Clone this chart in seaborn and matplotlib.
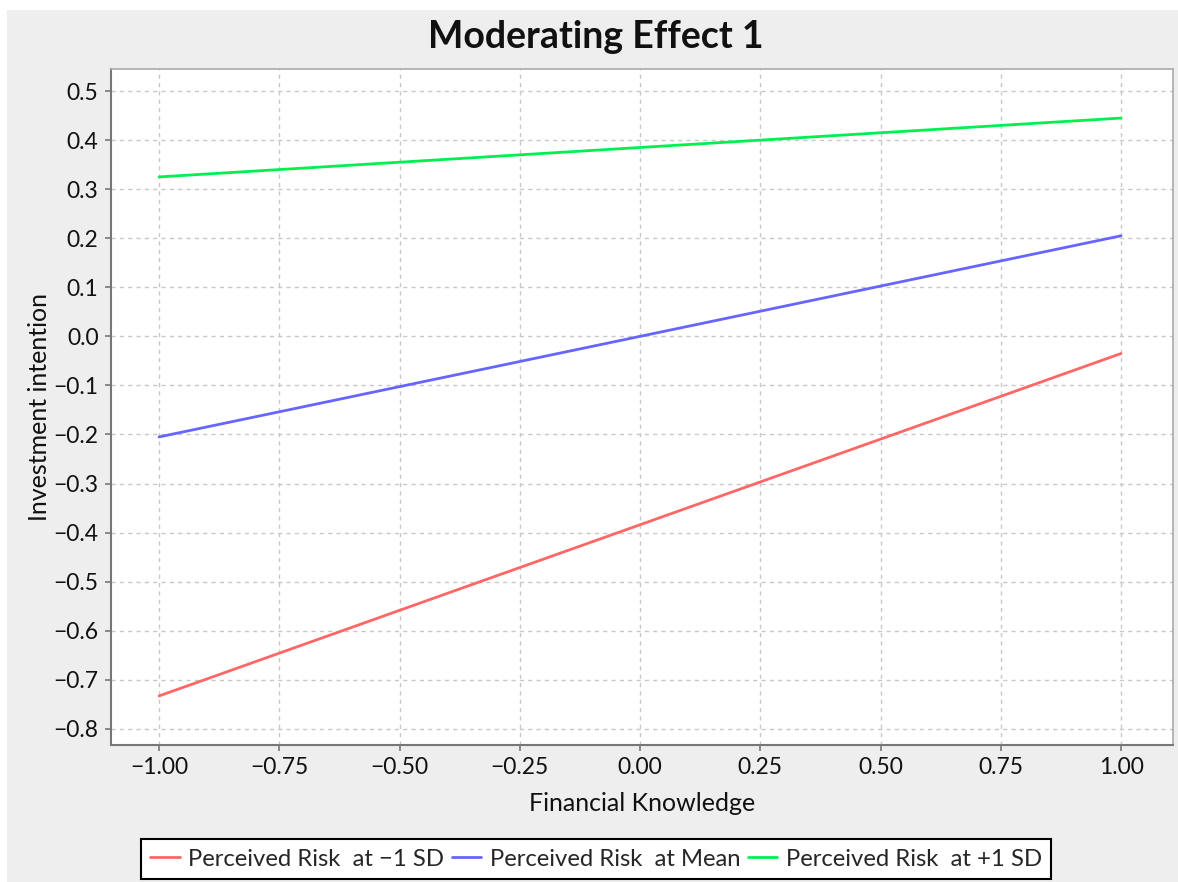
import matplotlib
matplotlib.use("Agg")
import matplotlib.pyplot as plt
import seaborn as sns
import pandas as pd
from matplotlib.patches import Rectangle
from matplotlib.lines import Line2D

# Data
knowledge = [-1.0, 1.0]
series_names = ["Perceived Risk  at \u22121 SD", "Perceived Risk  at Mean", "Perceived Risk  at +1 SD"]
risk_low = [-0.733, -0.035]
risk_mean = [-0.205, 0.205]
risk_high = [0.325, 0.445]
x_ticks = [-1.00, -0.75, -0.50, -0.25, 0.00, 0.25, 0.50, 0.75, 1.00]
y_ticks = [0.5, 0.4, 0.3, 0.2, 0.1, 0.0, -0.1, -0.2, -0.3, -0.4, -0.5, -0.6, -0.7, -0.8]

rows = []
for name, vals in zip(series_names, [risk_low, risk_mean, risk_high]):
    for x, y in zip(knowledge, vals):
        rows.append({"Financial Knowledge": x, "Investment intention": y, "series": name})
df = pd.DataFrame(rows)

sns.set_theme(style="whitegrid")
plt.rcParams['font.family'] = ['Lato', 'DejaVu Sans']

fig = plt.figure(figsize=(11.78, 8.82), dpi=100, facecolor="white")
# grey panel background (screenshot look)
fig.patches.append(Rectangle((7/1178, 0), 1 - 7/1178, 1 - 10/882, transform=fig.transFigure,
                             facecolor="#EEEEEE", edgecolor="none", zorder=-10))

ax = fig.add_axes([111/1178, 1 - 745/882, (1173 - 111)/1178, (745 - 69)/882])
ax.set_facecolor("white")

palette = {series_names[0]: "#FF6666", series_names[1]: "#6666FF", series_names[2]: "#00F050"}
sns.lineplot(data=df, x="Financial Knowledge", y="Investment intention", hue="series",
             palette=palette, linewidth=2, ax=ax, legend=False)

ax.set_xlim(-1.1, 1.108)
ax.set_ylim(-0.833, 0.545)
ax.set_xticks(x_ticks)
ax.set_xticklabels([f"{v:.2f}".replace("-", "\u2212") for v in x_ticks])
ax.set_yticks(y_ticks)
ax.set_yticklabels([f"{v:.1f}".replace("-", "\u2212") for v in y_ticks])
ax.tick_params(axis="both", labelsize=16.5, colors="#111111", length=4, width=1.2,
               direction="out", bottom=True, left=True, color="#777777", pad=5)
ax.grid(True, color="#C8C8C8", linestyle=(0, (3, 3)), linewidth=1)
for s in ["left", "bottom"]:
    ax.spines[s].set_color("#777777")
    ax.spines[s].set_linewidth(1.5)
for s in ["top", "right"]:
    ax.spines[s].set_color("#AAAAAA")
    ax.spines[s].set_linewidth(1.2)

ax.set_xlabel("Financial Knowledge", fontsize=18, color="#111111", labelpad=10)
ax.set_ylabel("Investment intention", fontsize=18, color="#111111", labelpad=2)

fig.text(596/1178, 1 - 37/882, "Moderating Effect 1", ha="center", va="center",
         fontsize=27, fontweight="bold", color="#111111")

handles = [Line2D([0], [0], color=palette[n], linewidth=2) for n in series_names]
leg = fig.legend(handles, series_names, loc="center", bbox_to_anchor=(596/1178, 1 - 859/882),
                 ncol=3, fontsize=17.2, frameon=True, fancybox=False, handlelength=1.25,
                 handletextpad=0.35, columnspacing=0.3, borderpad=0.4, borderaxespad=0)
leg.get_frame().set_edgecolor("black")
leg.get_frame().set_linewidth(1.5)
leg.get_frame().set_facecolor("white")
leg.get_frame().set_alpha(1)

fig.savefig("out.png", dpi=100, facecolor=fig.get_facecolor())
